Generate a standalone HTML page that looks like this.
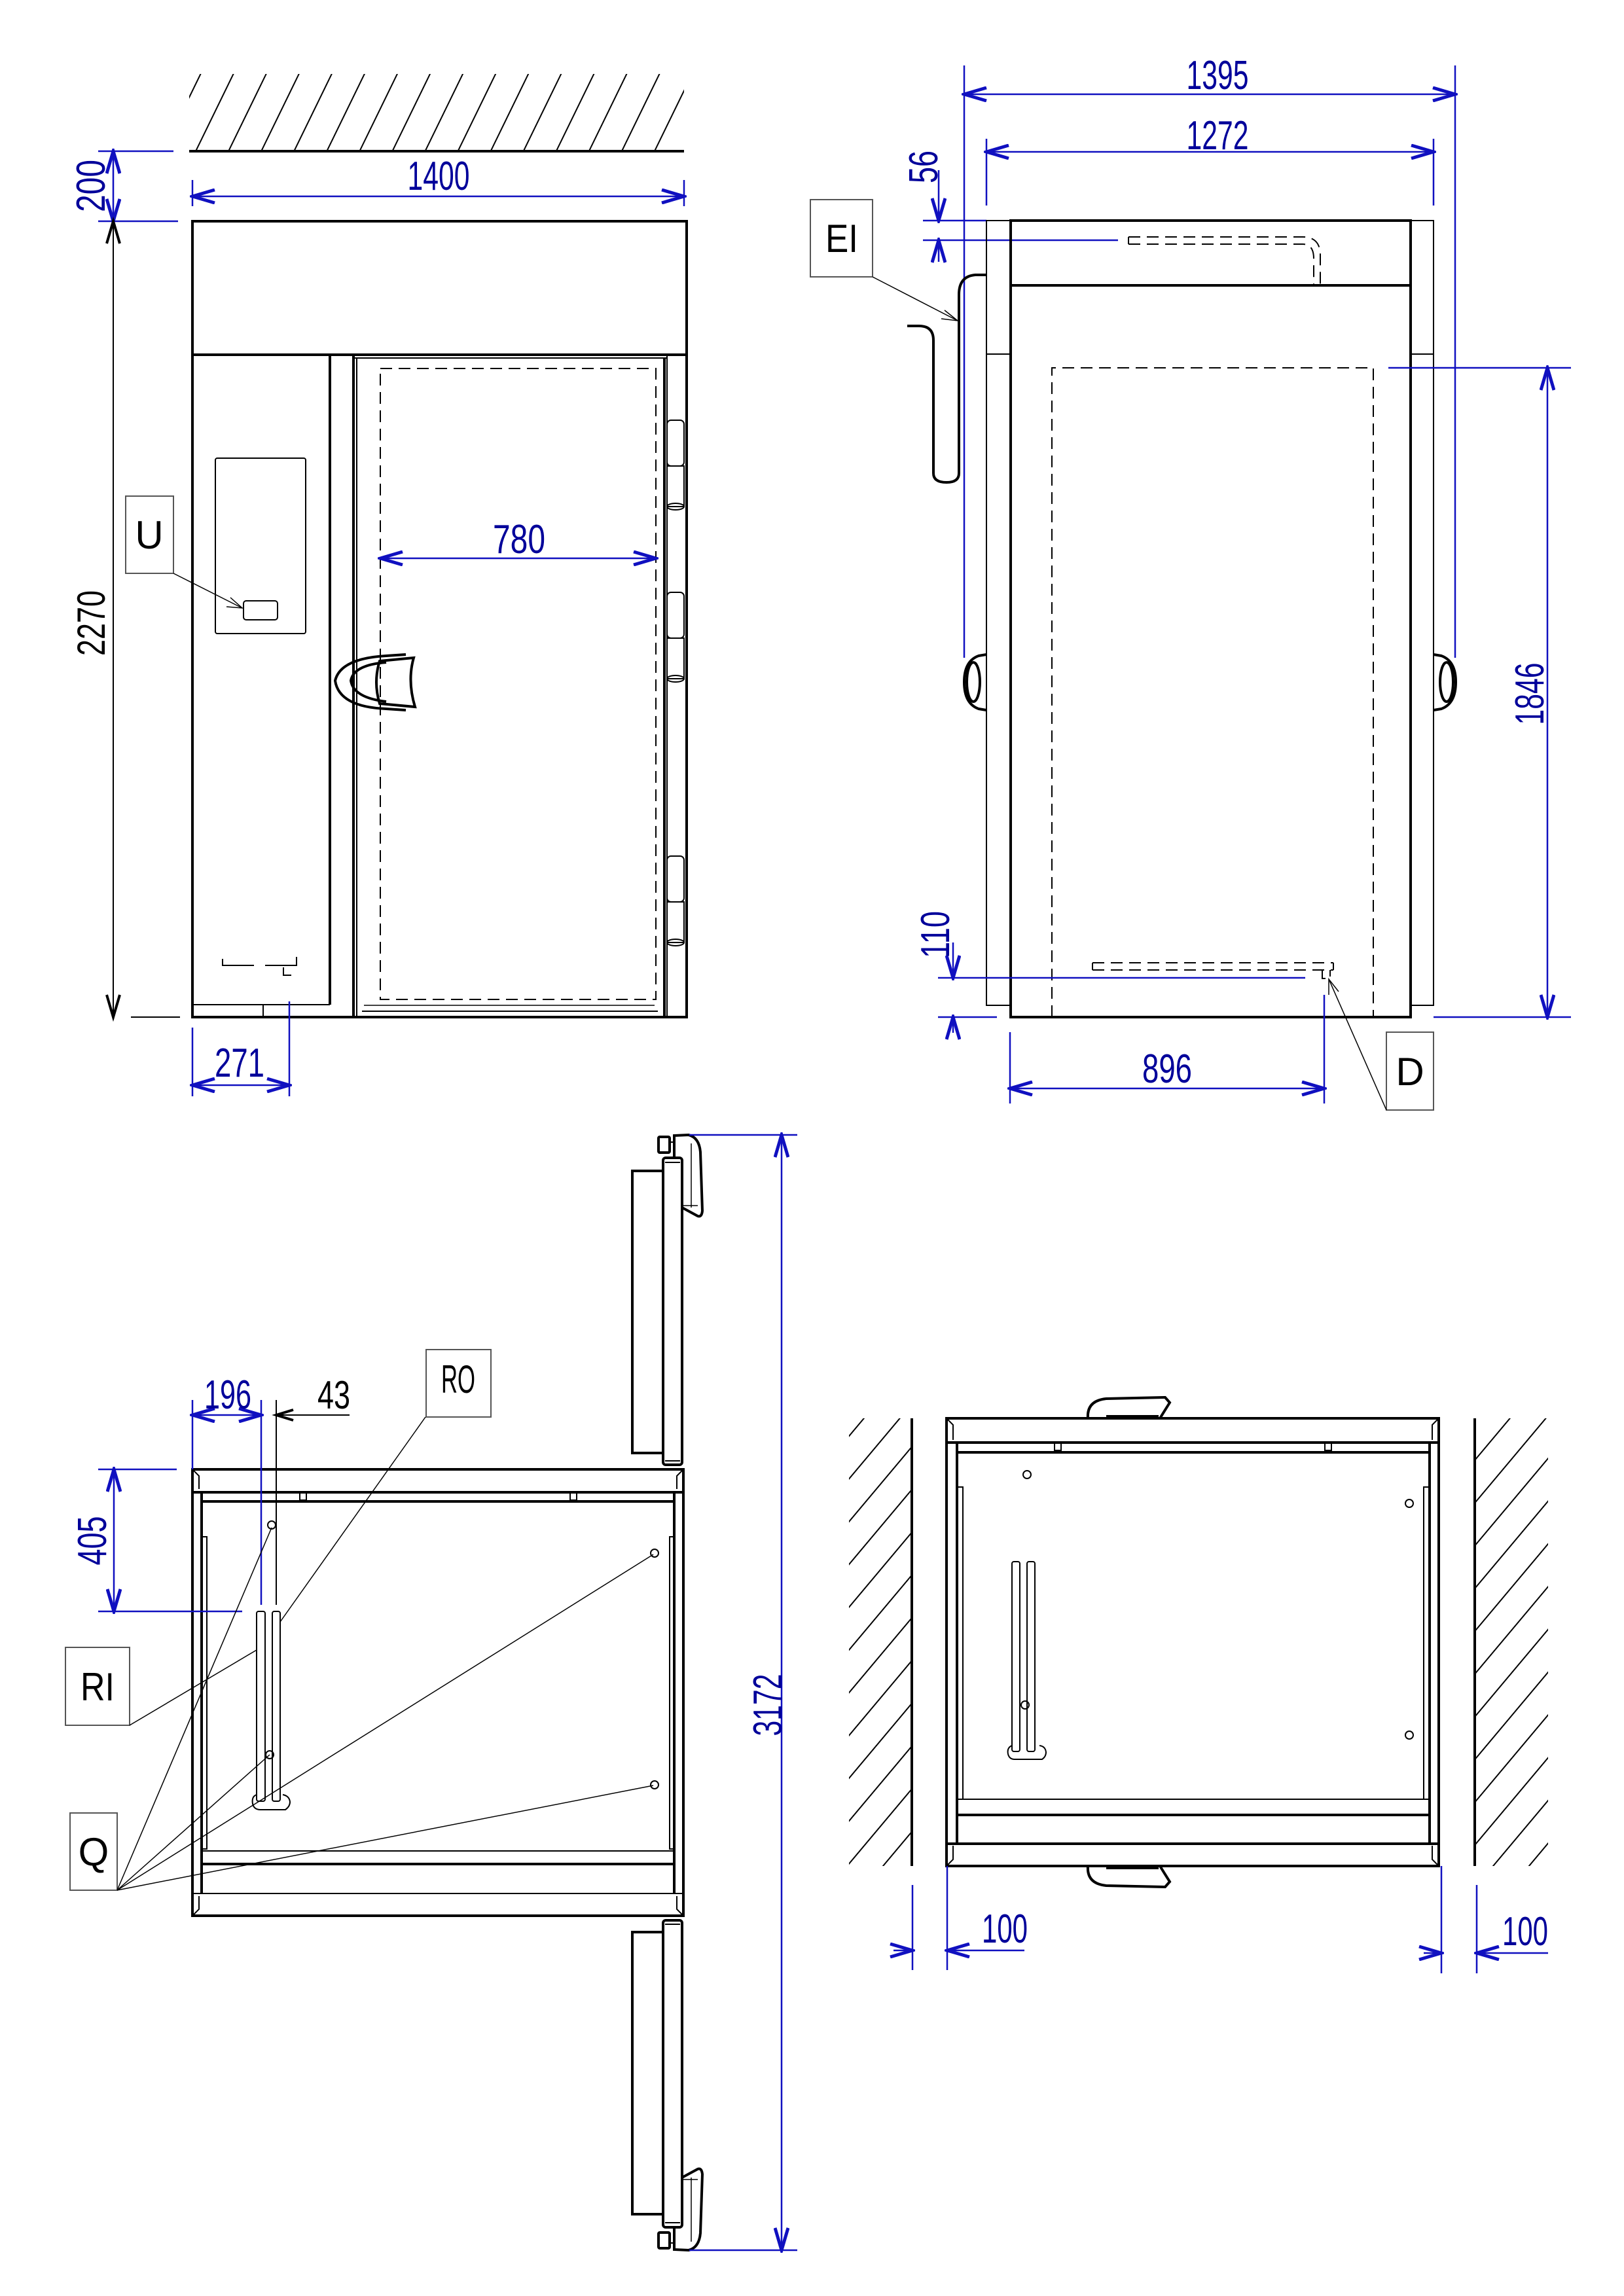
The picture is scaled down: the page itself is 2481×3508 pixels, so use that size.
<!DOCTYPE html>
<html><head><meta charset="utf-8"><style>
html,body{margin:0;padding:0;background:#fff}
svg{display:block}
.k{stroke:#000;fill:none;stroke-width:4}
.t{stroke:#000;fill:none;stroke-width:2}
.h{stroke:#000;fill:none;stroke-width:1.5}
.b{stroke:#1010c0;fill:none;stroke-width:2.5}
.d{stroke:#000;fill:none;stroke-width:2;stroke-dasharray:18 10}
.dt{font-family:"Liberation Sans",sans-serif;font-size:62px;fill:#00009a;text-anchor:middle}
.lb{font-family:"Liberation Sans",sans-serif;font-size:60px;fill:#000;text-anchor:middle}
.bx{stroke:#555;fill:#fff;stroke-width:2}
</style></head><body>
<svg width="2481" height="3508" viewBox="0 0 2481 3508" xmlns="http://www.w3.org/2000/svg">
<defs>
<marker id="a" viewBox="-40 -12 44 24" refX="0" refY="0" markerWidth="44" markerHeight="24" markerUnits="userSpaceOnUse" orient="auto-start-reverse">
<path d="M-34,-10 L0,0 L-34,10" fill="none" stroke="#1010c0" stroke-width="5"/>
</marker>
<pattern id="hp" patternUnits="userSpaceOnUse" width="45" height="45" patternTransform="rotate(26)">
<line x1="10" y1="0" x2="10" y2="45" stroke="#000" stroke-width="2"/>
</pattern>
<pattern id="hp2" patternUnits="userSpaceOnUse" width="42" height="42" patternTransform="rotate(40)">
<line x1="10" y1="0" x2="10" y2="42" stroke="#000" stroke-width="2"/>
</pattern>
<g id="hinge">
<rect x="1019" y="0" width="26" height="70" rx="6" class="t" stroke-width="3"/>
<rect x="1019" y="70" width="26" height="62" class="t" stroke-width="3"/>
<ellipse cx="1032" cy="132" rx="13" ry="5" class="t"/>
</g>
<g id="door">
<rect x="966" y="1789" width="47" height="431" class="k" stroke-width="3"/>
<rect x="1013" y="1769" width="29" height="469" rx="4" class="k"/>
<line x1="1016" y1="1776" x2="1039" y2="1776" class="t"/>
<line x1="1016" y1="2232" x2="1039" y2="2232" class="t"/>
<path d="M1030,1769 L1030,1735 L1052,1734 Q1068,1738 1070,1760 L1073,1850 Q1072,1860 1066,1858 L1042,1845" class="k" stroke-width="3"/>
<line x1="1056" y1="1747" x2="1056" y2="1845" class="h"/>
<line x1="1042" y1="1842" x2="1066" y2="1842" class="h"/>
<rect x="1006" y="1737" width="17" height="24" rx="2" class="k" stroke-width="3"/>
<line x1="1023" y1="1745" x2="1030" y2="1745" class="t"/>
</g>
</defs>

<!-- ============ FRONT VIEW ============ -->
<rect x="289" y="113" width="756" height="118" fill="url(#hp)"/>
<line x1="289" y1="231" x2="1045" y2="231" class="k" stroke-width="5"/>
<!-- 200 dim -->
<line x1="150" y1="231" x2="265" y2="231" class="b"/>
<line x1="150" y1="338" x2="272" y2="338" class="b"/>
<line x1="173" y1="231" x2="173" y2="338" class="b" marker-start="url(#a)" marker-end="url(#a)"/>
<text class="dt" transform="translate(160,284) rotate(-90)" textLength="80" lengthAdjust="spacingAndGlyphs">200</text>
<!-- 1400 -->
<line x1="294" y1="275" x2="294" y2="315" class="b"/>
<line x1="1045" y1="275" x2="1045" y2="315" class="b"/>
<line x1="294" y1="300" x2="1045" y2="300" class="b" marker-start="url(#a)" marker-end="url(#a)"/>
<text class="dt" x="670" y="290" textLength="95" lengthAdjust="spacingAndGlyphs">1400</text>
<!-- body -->
<rect x="294" y="338" width="755" height="1216" class="k"/>
<line x1="294" y1="542" x2="1049" y2="542" class="k"/>
<line x1="504" y1="542" x2="504" y2="1535" class="k" stroke-width="3"/>
<line x1="294" y1="1535" x2="504" y2="1535" class="t"/>
<line x1="402" y1="1535" x2="402" y2="1554" class="t"/>
<line x1="540" y1="542" x2="540" y2="1554" class="k"/>
<line x1="545" y1="547" x2="545" y2="1554" class="t"/>
<line x1="1015" y1="547" x2="1015" y2="1554" class="k" stroke-width="3"/>
<line x1="1019" y1="542" x2="1019" y2="1554" class="t"/>
<line x1="540" y1="547" x2="1019" y2="547" class="t"/>
<line x1="553" y1="1545" x2="1005" y2="1545" class="t"/>
<line x1="556" y1="1536" x2="1000" y2="1536" class="h"/>
<rect x="581" y="563" width="421" height="964" class="d"/>
<use href="#hinge" transform="translate(0,642)"/>
<use href="#hinge" transform="translate(0,905)"/>
<use href="#hinge" transform="translate(0,1308)"/>
<!-- 780 -->
<line x1="581" y1="853" x2="1002" y2="853" class="b" marker-start="url(#a)" marker-end="url(#a)"/>
<text class="dt" x="793" y="845" textLength="80" lengthAdjust="spacingAndGlyphs" fill="#0000ff">780</text>
<!-- control box -->
<rect x="329" y="700" width="138" height="268" rx="3" class="t" stroke-width="3"/>
<rect x="372" y="918" width="52" height="29" rx="4" class="t" stroke-width="3"/>
<rect x="192" y="758" width="73" height="118" class="bx"/>
<text class="lb" x="228" y="838">U</text>
<line x1="265" y1="876" x2="370" y2="929" class="h"/>
<path d="M352,913 L370,929 L346,927" class="h"/>
<!-- handle -->
<path d="M620,1000 L590,1002 Q520,1006 512,1040 Q518,1080 590,1083 L620,1085" class="k" stroke-width="3"/>
<path d="M590,1012 Q540,1016 536,1040 Q540,1066 590,1072" class="k" stroke-width="3"/>
<path d="M580,1010 L632,1005 Q622,1040 634,1080 L580,1075 Q570,1042 580,1010 Z" class="k" stroke-width="3"/>
<!-- small marks -->
<path d="M340,1465 L340,1475 L388,1475 M405,1475 L453,1475 L453,1462 M433,1478 L433,1490 L445,1490" class="t"/>
<!-- 2270 -->
<line x1="200" y1="1554" x2="275" y2="1554" class="t"/>
<line x1="173" y1="338" x2="173" y2="1554" class="t" stroke="#000"/>
<path d="M163,372 L173,338 L183,372 M163,1520 L173,1554 L183,1520" fill="none" stroke="#000" stroke-width="4"/>
<text class="lb" transform="translate(160,952) rotate(-90)" textLength="100" lengthAdjust="spacingAndGlyphs">2270</text>
<!-- 271 -->
<line x1="294" y1="1570" x2="294" y2="1675" class="b"/>
<line x1="442" y1="1530" x2="442" y2="1675" class="b"/>
<line x1="294" y1="1658" x2="442" y2="1658" class="b" marker-start="url(#a)" marker-end="url(#a)"/>
<text class="dt" x="366" y="1645" textLength="76" lengthAdjust="spacingAndGlyphs">271</text>

<!-- ============ SIDE VIEW ============ -->
<line x1="1473" y1="100" x2="1473" y2="1005" class="b"/>
<line x1="2223" y1="100" x2="2223" y2="1005" class="b"/>
<line x1="1473" y1="144" x2="2223" y2="144" class="b" marker-start="url(#a)" marker-end="url(#a)"/>
<text class="dt" x="1860" y="136" textLength="95" lengthAdjust="spacingAndGlyphs">1395</text>
<line x1="1507" y1="212" x2="1507" y2="314" class="b"/>
<line x1="2190" y1="212" x2="2190" y2="314" class="b"/>
<line x1="1507" y1="232" x2="2190" y2="232" class="b" marker-start="url(#a)" marker-end="url(#a)"/>
<text class="dt" x="1860" y="228" textLength="95" lengthAdjust="spacingAndGlyphs">1272</text>
<!-- 56 -->
<line x1="1410" y1="337" x2="1507" y2="337" class="b"/>
<line x1="1410" y1="367" x2="1708" y2="367" class="b"/>
<line x1="1434" y1="260" x2="1434" y2="337" class="b" marker-end="url(#a)"/>
<line x1="1434" y1="400" x2="1434" y2="367" class="b" marker-end="url(#a)"/>
<text class="dt" transform="translate(1432,255) rotate(-90)" textLength="50" lengthAdjust="spacingAndGlyphs">56</text>
<!-- posts and body -->
<rect x="1507" y="337" width="37" height="204" class="t" stroke-width="3"/>
<rect x="1507" y="541" width="37" height="995" class="t" stroke-width="3"/>
<rect x="2155" y="337" width="35" height="204" class="t" stroke-width="3"/>
<rect x="2155" y="541" width="35" height="995" class="t" stroke-width="3"/>
<rect x="1544" y="337" width="611" height="1217" class="k"/>
<line x1="1544" y1="436" x2="2155" y2="436" class="k"/>
<path d="M1607,1554 L1607,562 L2098,562 L2098,1554" class="d"/>
<line x1="2121" y1="562" x2="2400" y2="562" class="b"/>
<line x1="2190" y1="1554" x2="2400" y2="1554" class="b"/>
<line x1="2364" y1="562" x2="2364" y2="1554" class="b" marker-start="url(#a)" marker-end="url(#a)"/>
<text class="dt" transform="translate(2358,1060) rotate(-90)" textLength="95" lengthAdjust="spacingAndGlyphs">1846</text>
<!-- top pipe dashed -->
<path d="M1724,362 L1990,362 Q2017,362 2017,390 L2017,436 M1724,373 L1990,373 Q2007,373 2007,395 L2007,436 M1724,362 L1724,373" class="d" stroke-width="2"/>
<!-- bottom pipe -->
<path d="M1669,1471 L2037,1471 M1669,1482 L2037,1482 M2020,1482 L2020,1495 L2032,1495 L2032,1482" class="d" stroke-width="2"/>
<line x1="1669" y1="1471" x2="1669" y2="1482" class="t"/>
<line x1="2037" y1="1471" x2="2037" y2="1482" class="t"/>
<!-- EI pipe -->
<path d="M1507,420 L1490,420 Q1465,422 1465,450 L1465,723 Q1465,737 1446,737 Q1426,737 1426,723 L1426,520 Q1426,498 1404,498 L1386,498" class="k" stroke-width="3"/>
<rect x="1238" y="305" width="95" height="118" class="bx"/>
<text class="lb" x="1286" y="385" textLength="50" lengthAdjust="spacingAndGlyphs">EI</text>
<line x1="1333" y1="423" x2="1463" y2="490" class="h"/>
<path d="M1443,474 L1463,490 L1438,487" class="h"/>
<!-- knobs -->
<g class="k" stroke-width="3">
<path d="M1507,1000 L1495,1002 Q1473,1010 1473,1042 Q1473,1075 1495,1083 L1507,1085"/>
<ellipse cx="1487" cy="1042" rx="10" ry="30"/>
<path d="M2190,1000 L2202,1002 Q2224,1010 2224,1042 Q2224,1075 2202,1083 L2190,1085"/>
<ellipse cx="2210" cy="1042" rx="10" ry="30"/>
</g>
<!-- 110 -->
<line x1="1433" y1="1494" x2="1994" y2="1494" class="b"/>
<line x1="1433" y1="1554" x2="1523" y2="1554" class="b"/>
<line x1="1456" y1="1440" x2="1456" y2="1494" class="b" marker-end="url(#a)"/>
<line x1="1456" y1="1578" x2="1456" y2="1554" class="b" marker-end="url(#a)"/>
<text class="dt" transform="translate(1450,1428) rotate(-90)" textLength="72" lengthAdjust="spacingAndGlyphs">110</text>
<!-- 896 -->
<line x1="1543" y1="1577" x2="1543" y2="1686" class="b"/>
<line x1="2023" y1="1520" x2="2023" y2="1686" class="b"/>
<line x1="1543" y1="1663" x2="2023" y2="1663" class="b" marker-start="url(#a)" marker-end="url(#a)"/>
<text class="dt" x="1783" y="1654" textLength="76" lengthAdjust="spacingAndGlyphs">896</text>
<rect x="2118" y="1577" width="72" height="119" class="bx"/>
<text class="lb" x="2154" y="1658">D</text>
<line x1="2118" y1="1696" x2="2030" y2="1496" class="h"/>
<path d="M2030,1520 L2030,1496 L2045,1515" class="h"/>

<!-- ============ PLAN VIEW LEFT ============ -->
<use href="#door"/>
<use href="#door" transform="translate(0,5172) scale(1,-1)"/>
<!-- 3172 -->
<line x1="1053" y1="1734" x2="1218" y2="1734" class="b"/>
<line x1="1053" y1="3438" x2="1218" y2="3438" class="b"/>
<line x1="1194" y1="1734" x2="1194" y2="3438" class="b" marker-start="url(#a)" marker-end="url(#a)"/>
<text class="dt" transform="translate(1194,2605) rotate(-90)" textLength="95" lengthAdjust="spacingAndGlyphs">3172</text>
<!-- box -->
<rect x="294" y="2245" width="750" height="682" class="k"/>
<line x1="294" y1="2280" x2="1044" y2="2280" class="k"/>
<line x1="308" y1="2294" x2="1030" y2="2294" class="k"/>
<line x1="308" y1="2280" x2="308" y2="2893" class="k" stroke-width="3"/>
<line x1="1030" y1="2280" x2="1030" y2="2893" class="k" stroke-width="3"/>
<path d="M294,2245 L304,2255 L304,2275 M1044,2245 L1034,2255 L1034,2275 M294,2927 L304,2917 L304,2897 M1044,2927 L1034,2917 L1034,2897" class="t"/>
<rect x="458" y="2280" width="10" height="12" class="t"/>
<rect x="871" y="2280" width="10" height="12" class="t"/>
<rect x="308" y="2348" width="8" height="477" class="t"/>
<rect x="1023" y="2348" width="7" height="477" class="t"/>
<line x1="308" y1="2828" x2="1030" y2="2828" class="t" stroke-width="3"/>
<line x1="308" y1="2848" x2="1030" y2="2848" class="k"/>
<line x1="294" y1="2893" x2="1044" y2="2893" class="t" stroke-width="3"/>
<rect x="392" y="2462" width="13" height="290" rx="3" class="t" stroke-width="3"/>
<rect x="416" y="2462" width="12" height="290" rx="3" class="t" stroke-width="3"/>
<path d="M392,2742 Q384,2745 386,2756 Q388,2765 398,2765 L436,2765 Q443,2760 443,2753 Q442,2744 432,2742" class="t" stroke-width="3"/>
<circle cx="415" cy="2330" r="6" class="t"/>
<circle cx="412" cy="2681" r="6" class="t"/>
<circle cx="1000" cy="2373" r="6" class="t"/>
<circle cx="1000" cy="2727" r="6" class="t"/>
<!-- 196/43 -->
<line x1="294" y1="2139" x2="294" y2="2245" class="b"/>
<line x1="399" y1="2139" x2="399" y2="2452" class="b"/>
<line x1="422" y1="2139" x2="422" y2="2452" class="t"/>
<line x1="294" y1="2162" x2="399" y2="2162" class="b" marker-start="url(#a)" marker-end="url(#a)"/>
<text class="dt" x="348" y="2152" textLength="72" lengthAdjust="spacingAndGlyphs">196</text>
<line x1="534" y1="2162" x2="422" y2="2162" class="t"/>
<path d="M448,2154 L422,2162 L448,2170" fill="none" stroke="#000" stroke-width="4"/>
<text class="lb" x="510" y="2152" textLength="50" lengthAdjust="spacingAndGlyphs">43</text>
<!-- 405 -->
<line x1="150" y1="2245" x2="270" y2="2245" class="b"/>
<line x1="150" y1="2462" x2="370" y2="2462" class="b"/>
<line x1="174" y1="2245" x2="174" y2="2462" class="b" marker-start="url(#a)" marker-end="url(#a)"/>
<text class="dt" transform="translate(162,2354) rotate(-90)" textLength="75" lengthAdjust="spacingAndGlyphs">405</text>
<!-- labels -->
<rect x="651" y="2062" width="99" height="103" class="bx"/>
<text class="lb" x="700" y="2128" textLength="52" lengthAdjust="spacingAndGlyphs">RO</text>
<line x1="650" y1="2165" x2="428" y2="2478" class="h"/>
<rect x="100" y="2517" width="98" height="119" class="bx"/>
<text class="lb" x="149" y="2598" textLength="52" lengthAdjust="spacingAndGlyphs">RI</text>
<line x1="198" y1="2636" x2="392" y2="2521" class="h"/>
<rect x="107" y="2770" width="72" height="118" class="bx"/>
<text class="lb" x="143" y="2850">Q</text>
<g class="h">
<line x1="179" y1="2888" x2="415" y2="2334"/>
<line x1="179" y1="2888" x2="412" y2="2681"/>
<line x1="179" y1="2888" x2="998" y2="2375"/>
<line x1="179" y1="2888" x2="998" y2="2728"/>
</g>

<!-- ============ PLAN VIEW RIGHT ============ -->
<rect x="1297" y="2167" width="96" height="684" fill="url(#hp2)"/>
<rect x="2253" y="2167" width="112" height="684" fill="url(#hp2)"/>
<line x1="1393" y1="2167" x2="1393" y2="2851" class="k" stroke-width="3"/>
<line x1="2253" y1="2167" x2="2253" y2="2851" class="k" stroke-width="3"/>
<rect x="1446" y="2167" width="752" height="684" class="k"/>
<line x1="1446" y1="2204" x2="2198" y2="2204" class="k"/>
<line x1="1462" y1="2219" x2="2184" y2="2219" class="k"/>
<line x1="1462" y1="2204" x2="1462" y2="2817" class="k" stroke-width="3"/>
<line x1="2184" y1="2204" x2="2184" y2="2817" class="k" stroke-width="3"/>
<path d="M1446,2167 L1456,2177 L1456,2200 M2198,2167 L2188,2177 L2188,2200 M1446,2851 L1456,2841 L1456,2820 M2198,2851 L2188,2841 L2188,2820" class="t"/>
<rect x="1611" y="2204" width="10" height="12" class="t"/>
<rect x="2024" y="2204" width="10" height="12" class="t"/>
<rect x="1462" y="2272" width="9" height="477" class="t"/>
<rect x="2175" y="2272" width="9" height="477" class="t"/>
<line x1="1462" y1="2749" x2="2184" y2="2749" class="t" stroke-width="3"/>
<line x1="1462" y1="2773" x2="2184" y2="2773" class="k"/>
<line x1="1446" y1="2817" x2="2198" y2="2817" class="k" stroke-width="3"/>
<rect x="1546" y="2386" width="12" height="290" rx="3" class="t" stroke-width="3"/>
<rect x="1569" y="2386" width="12" height="290" rx="3" class="t" stroke-width="3"/>
<path d="M1546,2667 Q1538,2670 1540,2680 Q1542,2688 1550,2688 L1592,2688 Q1598,2684 1598,2677 Q1597,2668 1588,2667" class="t" stroke-width="3"/>
<circle cx="1569" cy="2253" r="6" class="t"/>
<circle cx="2153" cy="2297" r="6" class="t"/>
<circle cx="2153" cy="2651" r="6" class="t"/>
<circle cx="1566" cy="2605" r="6" class="t"/>
<g class="k" stroke-width="3">
<path d="M1662,2167 Q1660,2140 1690,2137 L1780,2135 L1787,2143 L1772,2167"/>
<line x1="1690" y1="2164" x2="1770" y2="2164"/>
<path d="M1662,2851 Q1660,2878 1690,2881 L1780,2883 L1787,2875 L1772,2851"/>
<line x1="1690" y1="2854" x2="1770" y2="2854"/>
</g>
<!-- 100 dims -->
<line x1="1394" y1="2880" x2="1394" y2="3010" class="b"/>
<line x1="1447" y1="2851" x2="1447" y2="3010" class="b"/>
<line x1="1365" y1="2980" x2="1394" y2="2980" class="b" marker-end="url(#a)"/>
<line x1="1565" y1="2980" x2="1447" y2="2980" class="b" marker-end="url(#a)"/>
<text class="dt" x="1535" y="2968" textLength="70" lengthAdjust="spacingAndGlyphs" fill="#0000ff">100</text>
<line x1="2202" y1="2851" x2="2202" y2="3015" class="b"/>
<line x1="2256" y1="2880" x2="2256" y2="3015" class="b"/>
<line x1="2175" y1="2984" x2="2202" y2="2984" class="b" marker-end="url(#a)"/>
<line x1="2365" y1="2984" x2="2256" y2="2984" class="b" marker-end="url(#a)"/>
<text class="dt" x="2330" y="2972" textLength="70" lengthAdjust="spacingAndGlyphs" fill="#0000ff">100</text>
</svg>
</body></html>
